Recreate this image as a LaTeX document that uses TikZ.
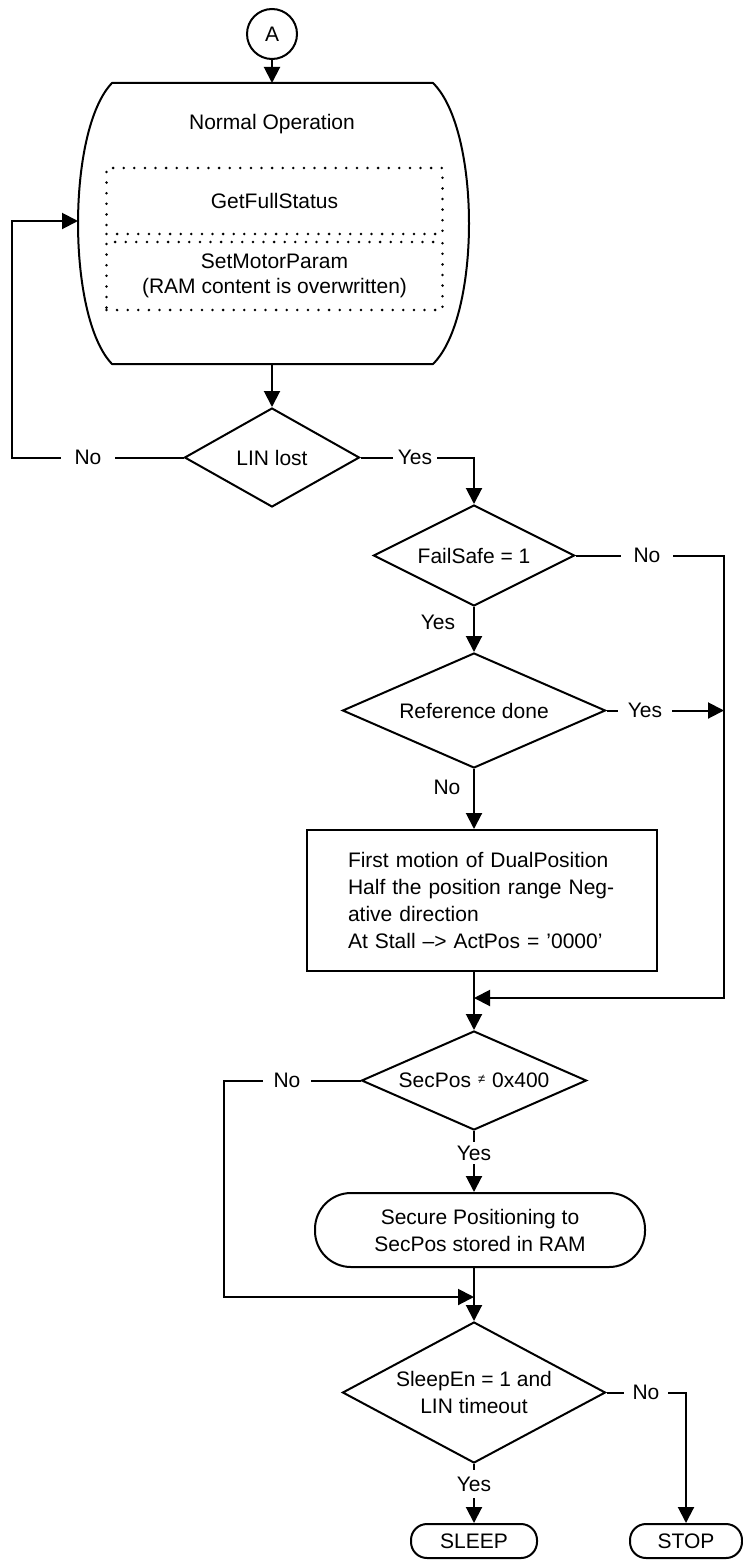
\documentclass[tikz,border=0pt]{standalone}
\usepackage{fontspec}
\setmainfont{Liberation Sans}
\usetikzlibrary{shapes.geometric,arrows.meta,calc}
\begin{document}
\begin{tikzpicture}[x=1pt,y=-1pt,line width=2pt,
  every node/.style={font=\fontsize{21}{27}\selectfont},
  arr/.style={-{Triangle[length=16pt,width=16pt]}},
  decision/.style={diamond,draw,inner sep=0pt,align=center},
  dotbox/.style={draw,dash pattern=on 0pt off 10.6pt,line cap=round,line width=2.8pt,minimum width=336pt,inner sep=0pt},
  term/.style={draw,minimum height=34pt,inner sep=0pt,rounded corners=16pt},
  lab/.style={fill=white,inner ysep=3pt},
]
\useasboundingbox (0,0) rectangle (742,1560);

% start connector
\node[draw,circle,minimum size=50pt,inner sep=0pt] (A) at (272,34) {A};

% Normal operation barrel
\node[minimum width=321pt,minimum height=281pt,inner sep=0pt,outer sep=0pt] (normal) at (272.5,223.5) {};
\draw[line join=round] (normal.north west) -- (normal.north east)
  .. controls (481,130) and (481,317) .. (normal.south east)
  -- (normal.south west)
  .. controls (66.7,317) and (66.7,130) .. (normal.north west) -- cycle;
\coordinate (nleft) at (78,221);
\node (normtxt) at (272,124) {Normal Operation};
\node[dotbox,minimum height=66pt] (gfs) at (274.5,201) {GetFullStatus};
\node[dotbox,minimum height=68pt,align=center,font=\fontsize{21}{25}\selectfont] (smp) at (274.5,276) {SetMotorParam\\(RAM content is overwritten)};

% decisions and processes
\node[decision,minimum width=175pt,minimum height=99pt,aspect=1.77] (lin) at (272,457.5) {LIN lost};
\node[decision,minimum width=201pt,minimum height=101pt,aspect=1.99] (fs) at (474,555.5) {FailSafe = 1};
\node[decision,minimum width=263pt,minimum height=115pt,aspect=2.29] (ref) at (474,710.5) {Reference done};
\node[draw,minimum width=350pt,minimum height=141pt,text width=268pt,inner xsep=41pt,inner ysep=0pt,align=left] (box) at (482,900.5)
  {First motion of DualPosition\\Half the position range Neg-\\ative direction\\At Stall –> ActPos = ’0000’};
\node[decision,minimum width=225pt,minimum height=99pt,aspect=2.27] (sp) at (474,1080.5)
  {SecPos\hspace{7pt}\raisebox{4pt}{\fontsize{13}{13}\selectfont ≠}\hspace{7pt}0x400};
\node[draw,minimum width=330pt,minimum height=74pt,rounded corners=36pt,align=center,inner sep=0pt] (sec) at (480,1230)
  {Secure Positioning to\\SecPos stored in RAM};
\node[decision,minimum width=263pt,minimum height=141pt,aspect=1.87] (sl) at (474,1392.5) {SleepEn = 1 and\\LIN timeout};
\node[term,minimum width=126pt] (sleep) at (474,1541) {SLEEP};
\node[term,minimum width=112pt] (stop) at (686,1541) {STOP};

% junction points
\coordinate (rjoin) at (724,998);
\coordinate (mj1) at (474,998);
\coordinate (ljoin) at (224,1297);
\coordinate (mj2) at (474,1297);

% connectors
\draw[arr] (A) -- (A |- normal.north);
\draw[arr] (normal.south -| lin.north) -- (lin.north);
\draw[arr] (lin.west) -- ++(-171.5,0) |- (nleft);
\draw[arr] (lin.east) -| (fs.north);
\draw[arr] (fs.east) -| (rjoin) -- (mj1);
\draw[arr] (ref.east) -- (ref.east -| rjoin);
\draw[arr] (fs.south) -- (ref.north);
\draw[arr] (ref.south) -- (ref.south |- box.north);
\draw[arr] (box.south -| sp.north) -- (sp.north);
\draw[arr] (sp.south) -- (sp.south |- sec.north);
\draw[arr] (sp.west) -| (ljoin) -- (mj2);
\draw[arr] (sec.south -| sl.north) -- (sl.north);
\draw[arr] (sl.east) -| (stop.north);
\draw[arr] (sl.south) -- (sleep.north);

% labels
\node[lab,inner xsep=14pt] (l1) at (88,457.5) {No};
\node[lab,inner xsep=5pt] (l2) at (415,457.5) {Yes};
\node[lab,inner xsep=13pt] (l3) at (647,555.5) {No};
\node (l4) at (438,622) {Yes};
\node[lab,inner xsep=10pt] (l5) at (645,710.5) {Yes};
\node (l6) at (447,787) {No};
\node[lab,inner xsep=11pt] (l7) at (287,1080.5) {No};
\node[lab,inner ysep=4pt] (l8) at (474,1153) {Yes};
\node[lab,inner xsep=9pt] (l9) at (646,1392.5) {No};
\node[lab,inner ysep=7pt] (l10) at (474,1484) {Yes};
\end{tikzpicture}
\end{document}
